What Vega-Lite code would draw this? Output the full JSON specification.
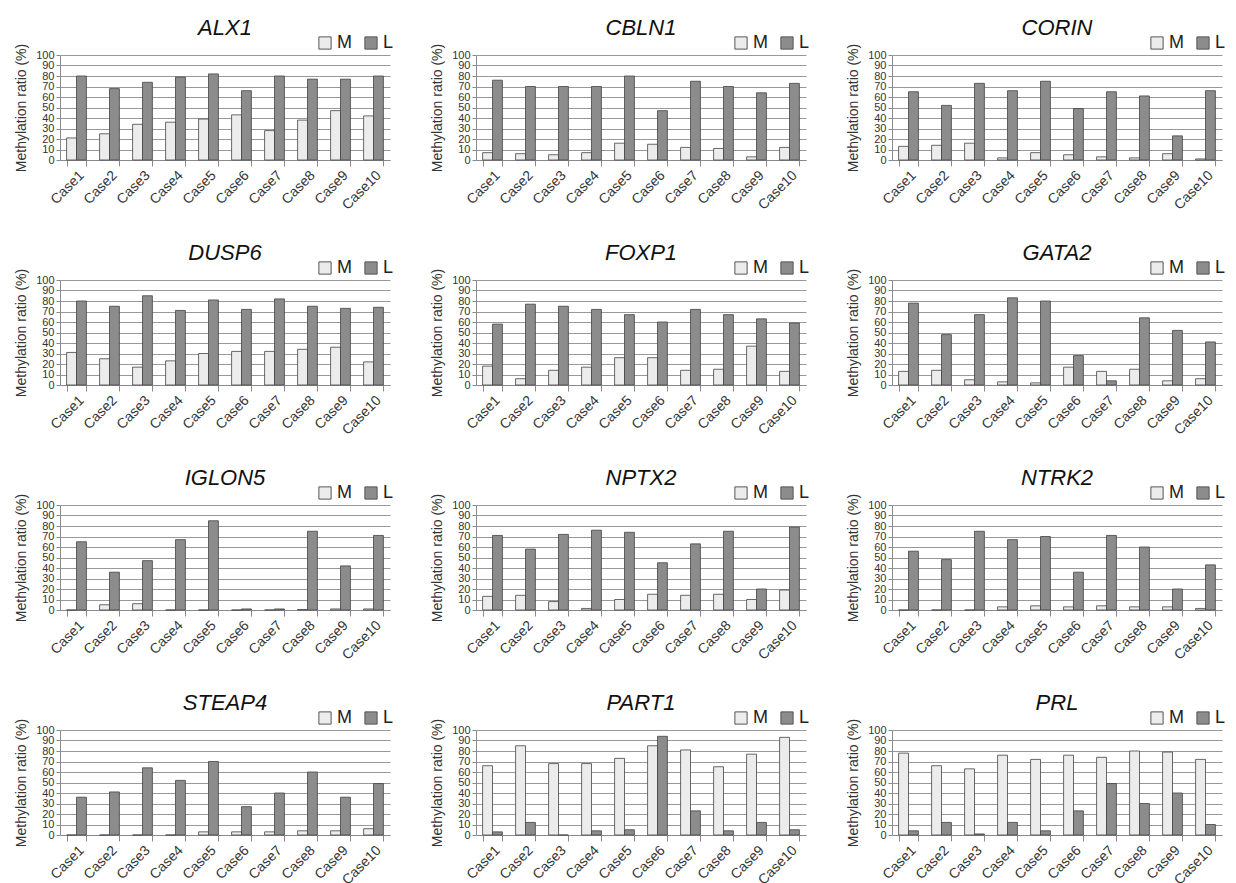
{
"$schema": "https://vega.github.io/schema/vega-lite/v6.json",
"background": "white",
"padding": {"left": 14, "top": 17, "right": 0, "bottom": 0},
"columns": 3,
"spacing": {"row": 29, "column": 36},
"resolve": {"scale": {"color": "independent"}, "legend": {"color": "independent"}},
"data": {"values": [
{"gene":"ALX1","case":"Case1","type":"M","value":21},{"gene":"ALX1","case":"Case2","type":"M","value":25},{"gene":"ALX1","case":"Case3","type":"M","value":34},{"gene":"ALX1","case":"Case4","type":"M","value":36},{"gene":"ALX1","case":"Case5","type":"M","value":39},{"gene":"ALX1","case":"Case6","type":"M","value":43},{"gene":"ALX1","case":"Case7","type":"M","value":28},{"gene":"ALX1","case":"Case8","type":"M","value":38},{"gene":"ALX1","case":"Case9","type":"M","value":47},{"gene":"ALX1","case":"Case10","type":"M","value":42},
{"gene":"ALX1","case":"Case1","type":"L","value":80},{"gene":"ALX1","case":"Case2","type":"L","value":68},{"gene":"ALX1","case":"Case3","type":"L","value":74},{"gene":"ALX1","case":"Case4","type":"L","value":79},{"gene":"ALX1","case":"Case5","type":"L","value":82},{"gene":"ALX1","case":"Case6","type":"L","value":66},{"gene":"ALX1","case":"Case7","type":"L","value":80},{"gene":"ALX1","case":"Case8","type":"L","value":77},{"gene":"ALX1","case":"Case9","type":"L","value":77},{"gene":"ALX1","case":"Case10","type":"L","value":80},
{"gene":"CBLN1","case":"Case1","type":"M","value":7},{"gene":"CBLN1","case":"Case2","type":"M","value":6},{"gene":"CBLN1","case":"Case3","type":"M","value":5},{"gene":"CBLN1","case":"Case4","type":"M","value":7},{"gene":"CBLN1","case":"Case5","type":"M","value":16},{"gene":"CBLN1","case":"Case6","type":"M","value":15},{"gene":"CBLN1","case":"Case7","type":"M","value":12},{"gene":"CBLN1","case":"Case8","type":"M","value":11},{"gene":"CBLN1","case":"Case9","type":"M","value":3},{"gene":"CBLN1","case":"Case10","type":"M","value":12},
{"gene":"CBLN1","case":"Case1","type":"L","value":76},{"gene":"CBLN1","case":"Case2","type":"L","value":70},{"gene":"CBLN1","case":"Case3","type":"L","value":70},{"gene":"CBLN1","case":"Case4","type":"L","value":70},{"gene":"CBLN1","case":"Case5","type":"L","value":80},{"gene":"CBLN1","case":"Case6","type":"L","value":47},{"gene":"CBLN1","case":"Case7","type":"L","value":75},{"gene":"CBLN1","case":"Case8","type":"L","value":70},{"gene":"CBLN1","case":"Case9","type":"L","value":64},{"gene":"CBLN1","case":"Case10","type":"L","value":73},
{"gene":"CORIN","case":"Case1","type":"M","value":13},{"gene":"CORIN","case":"Case2","type":"M","value":14},{"gene":"CORIN","case":"Case3","type":"M","value":16},{"gene":"CORIN","case":"Case4","type":"M","value":2},{"gene":"CORIN","case":"Case5","type":"M","value":7},{"gene":"CORIN","case":"Case6","type":"M","value":5},{"gene":"CORIN","case":"Case7","type":"M","value":3},{"gene":"CORIN","case":"Case8","type":"M","value":2},{"gene":"CORIN","case":"Case9","type":"M","value":6},{"gene":"CORIN","case":"Case10","type":"M","value":1},
{"gene":"CORIN","case":"Case1","type":"L","value":65},{"gene":"CORIN","case":"Case2","type":"L","value":52},{"gene":"CORIN","case":"Case3","type":"L","value":73},{"gene":"CORIN","case":"Case4","type":"L","value":66},{"gene":"CORIN","case":"Case5","type":"L","value":75},{"gene":"CORIN","case":"Case6","type":"L","value":49},{"gene":"CORIN","case":"Case7","type":"L","value":65},{"gene":"CORIN","case":"Case8","type":"L","value":61},{"gene":"CORIN","case":"Case9","type":"L","value":23},{"gene":"CORIN","case":"Case10","type":"L","value":66},
{"gene":"DUSP6","case":"Case1","type":"M","value":31},{"gene":"DUSP6","case":"Case2","type":"M","value":25},{"gene":"DUSP6","case":"Case3","type":"M","value":17},{"gene":"DUSP6","case":"Case4","type":"M","value":23},{"gene":"DUSP6","case":"Case5","type":"M","value":30},{"gene":"DUSP6","case":"Case6","type":"M","value":32},{"gene":"DUSP6","case":"Case7","type":"M","value":32},{"gene":"DUSP6","case":"Case8","type":"M","value":34},{"gene":"DUSP6","case":"Case9","type":"M","value":36},{"gene":"DUSP6","case":"Case10","type":"M","value":22},
{"gene":"DUSP6","case":"Case1","type":"L","value":80},{"gene":"DUSP6","case":"Case2","type":"L","value":75},{"gene":"DUSP6","case":"Case3","type":"L","value":85},{"gene":"DUSP6","case":"Case4","type":"L","value":71},{"gene":"DUSP6","case":"Case5","type":"L","value":81},{"gene":"DUSP6","case":"Case6","type":"L","value":72},{"gene":"DUSP6","case":"Case7","type":"L","value":82},{"gene":"DUSP6","case":"Case8","type":"L","value":75},{"gene":"DUSP6","case":"Case9","type":"L","value":73},{"gene":"DUSP6","case":"Case10","type":"L","value":74},
{"gene":"FOXP1","case":"Case1","type":"M","value":18},{"gene":"FOXP1","case":"Case2","type":"M","value":6},{"gene":"FOXP1","case":"Case3","type":"M","value":14},{"gene":"FOXP1","case":"Case4","type":"M","value":17},{"gene":"FOXP1","case":"Case5","type":"M","value":26},{"gene":"FOXP1","case":"Case6","type":"M","value":26},{"gene":"FOXP1","case":"Case7","type":"M","value":14},{"gene":"FOXP1","case":"Case8","type":"M","value":15},{"gene":"FOXP1","case":"Case9","type":"M","value":37},{"gene":"FOXP1","case":"Case10","type":"M","value":13},
{"gene":"FOXP1","case":"Case1","type":"L","value":58},{"gene":"FOXP1","case":"Case2","type":"L","value":77},{"gene":"FOXP1","case":"Case3","type":"L","value":75},{"gene":"FOXP1","case":"Case4","type":"L","value":72},{"gene":"FOXP1","case":"Case5","type":"L","value":67},{"gene":"FOXP1","case":"Case6","type":"L","value":60},{"gene":"FOXP1","case":"Case7","type":"L","value":72},{"gene":"FOXP1","case":"Case8","type":"L","value":67},{"gene":"FOXP1","case":"Case9","type":"L","value":63},{"gene":"FOXP1","case":"Case10","type":"L","value":59},
{"gene":"GATA2","case":"Case1","type":"M","value":13},{"gene":"GATA2","case":"Case2","type":"M","value":14},{"gene":"GATA2","case":"Case3","type":"M","value":5},{"gene":"GATA2","case":"Case4","type":"M","value":3},{"gene":"GATA2","case":"Case5","type":"M","value":2},{"gene":"GATA2","case":"Case6","type":"M","value":17},{"gene":"GATA2","case":"Case7","type":"M","value":13},{"gene":"GATA2","case":"Case8","type":"M","value":15},{"gene":"GATA2","case":"Case9","type":"M","value":4},{"gene":"GATA2","case":"Case10","type":"M","value":6},
{"gene":"GATA2","case":"Case1","type":"L","value":78},{"gene":"GATA2","case":"Case2","type":"L","value":48},{"gene":"GATA2","case":"Case3","type":"L","value":67},{"gene":"GATA2","case":"Case4","type":"L","value":83},{"gene":"GATA2","case":"Case5","type":"L","value":80},{"gene":"GATA2","case":"Case6","type":"L","value":28},{"gene":"GATA2","case":"Case7","type":"L","value":4},{"gene":"GATA2","case":"Case8","type":"L","value":64},{"gene":"GATA2","case":"Case9","type":"L","value":52},{"gene":"GATA2","case":"Case10","type":"L","value":41},
{"gene":"IGLON5","case":"Case1","type":"M","value":0},{"gene":"IGLON5","case":"Case2","type":"M","value":5},{"gene":"IGLON5","case":"Case3","type":"M","value":6},{"gene":"IGLON5","case":"Case4","type":"M","value":0},{"gene":"IGLON5","case":"Case5","type":"M","value":0},{"gene":"IGLON5","case":"Case6","type":"M","value":0},{"gene":"IGLON5","case":"Case7","type":"M","value":0},{"gene":"IGLON5","case":"Case8","type":"M","value":0.5},{"gene":"IGLON5","case":"Case9","type":"M","value":1},{"gene":"IGLON5","case":"Case10","type":"M","value":1},
{"gene":"IGLON5","case":"Case1","type":"L","value":65},{"gene":"IGLON5","case":"Case2","type":"L","value":36},{"gene":"IGLON5","case":"Case3","type":"L","value":47},{"gene":"IGLON5","case":"Case4","type":"L","value":67},{"gene":"IGLON5","case":"Case5","type":"L","value":85},{"gene":"IGLON5","case":"Case6","type":"L","value":1},{"gene":"IGLON5","case":"Case7","type":"L","value":1},{"gene":"IGLON5","case":"Case8","type":"L","value":75},{"gene":"IGLON5","case":"Case9","type":"L","value":42},{"gene":"IGLON5","case":"Case10","type":"L","value":71},
{"gene":"NPTX2","case":"Case1","type":"M","value":13},{"gene":"NPTX2","case":"Case2","type":"M","value":14},{"gene":"NPTX2","case":"Case3","type":"M","value":8},{"gene":"NPTX2","case":"Case4","type":"M","value":1.5},{"gene":"NPTX2","case":"Case5","type":"M","value":10},{"gene":"NPTX2","case":"Case6","type":"M","value":15},{"gene":"NPTX2","case":"Case7","type":"M","value":14},{"gene":"NPTX2","case":"Case8","type":"M","value":15},{"gene":"NPTX2","case":"Case9","type":"M","value":10},{"gene":"NPTX2","case":"Case10","type":"M","value":19},
{"gene":"NPTX2","case":"Case1","type":"L","value":71},{"gene":"NPTX2","case":"Case2","type":"L","value":58},{"gene":"NPTX2","case":"Case3","type":"L","value":72},{"gene":"NPTX2","case":"Case4","type":"L","value":76},{"gene":"NPTX2","case":"Case5","type":"L","value":74},{"gene":"NPTX2","case":"Case6","type":"L","value":45},{"gene":"NPTX2","case":"Case7","type":"L","value":63},{"gene":"NPTX2","case":"Case8","type":"L","value":75},{"gene":"NPTX2","case":"Case9","type":"L","value":20},{"gene":"NPTX2","case":"Case10","type":"L","value":79},
{"gene":"NTRK2","case":"Case1","type":"M","value":0},{"gene":"NTRK2","case":"Case2","type":"M","value":0},{"gene":"NTRK2","case":"Case3","type":"M","value":0},{"gene":"NTRK2","case":"Case4","type":"M","value":3},{"gene":"NTRK2","case":"Case5","type":"M","value":4},{"gene":"NTRK2","case":"Case6","type":"M","value":3},{"gene":"NTRK2","case":"Case7","type":"M","value":4},{"gene":"NTRK2","case":"Case8","type":"M","value":3},{"gene":"NTRK2","case":"Case9","type":"M","value":3},{"gene":"NTRK2","case":"Case10","type":"M","value":1.5},
{"gene":"NTRK2","case":"Case1","type":"L","value":56},{"gene":"NTRK2","case":"Case2","type":"L","value":48},{"gene":"NTRK2","case":"Case3","type":"L","value":75},{"gene":"NTRK2","case":"Case4","type":"L","value":67},{"gene":"NTRK2","case":"Case5","type":"L","value":70},{"gene":"NTRK2","case":"Case6","type":"L","value":36},{"gene":"NTRK2","case":"Case7","type":"L","value":71},{"gene":"NTRK2","case":"Case8","type":"L","value":60},{"gene":"NTRK2","case":"Case9","type":"L","value":20},{"gene":"NTRK2","case":"Case10","type":"L","value":43},
{"gene":"STEAP4","case":"Case1","type":"M","value":0},{"gene":"STEAP4","case":"Case2","type":"M","value":0},{"gene":"STEAP4","case":"Case3","type":"M","value":0},{"gene":"STEAP4","case":"Case4","type":"M","value":0},{"gene":"STEAP4","case":"Case5","type":"M","value":3},{"gene":"STEAP4","case":"Case6","type":"M","value":3},{"gene":"STEAP4","case":"Case7","type":"M","value":3},{"gene":"STEAP4","case":"Case8","type":"M","value":4},{"gene":"STEAP4","case":"Case9","type":"M","value":4},{"gene":"STEAP4","case":"Case10","type":"M","value":6},
{"gene":"STEAP4","case":"Case1","type":"L","value":36},{"gene":"STEAP4","case":"Case2","type":"L","value":41},{"gene":"STEAP4","case":"Case3","type":"L","value":64},{"gene":"STEAP4","case":"Case4","type":"L","value":52},{"gene":"STEAP4","case":"Case5","type":"L","value":70},{"gene":"STEAP4","case":"Case6","type":"L","value":27},{"gene":"STEAP4","case":"Case7","type":"L","value":40},{"gene":"STEAP4","case":"Case8","type":"L","value":60},{"gene":"STEAP4","case":"Case9","type":"L","value":36},{"gene":"STEAP4","case":"Case10","type":"L","value":49},
{"gene":"PART1","case":"Case1","type":"M","value":66},{"gene":"PART1","case":"Case2","type":"M","value":85},{"gene":"PART1","case":"Case3","type":"M","value":68},{"gene":"PART1","case":"Case4","type":"M","value":68},{"gene":"PART1","case":"Case5","type":"M","value":73},{"gene":"PART1","case":"Case6","type":"M","value":85},{"gene":"PART1","case":"Case7","type":"M","value":81},{"gene":"PART1","case":"Case8","type":"M","value":65},{"gene":"PART1","case":"Case9","type":"M","value":77},{"gene":"PART1","case":"Case10","type":"M","value":93},
{"gene":"PART1","case":"Case1","type":"L","value":3},{"gene":"PART1","case":"Case2","type":"L","value":12},{"gene":"PART1","case":"Case3","type":"L","value":0},{"gene":"PART1","case":"Case4","type":"L","value":4},{"gene":"PART1","case":"Case5","type":"L","value":5},{"gene":"PART1","case":"Case6","type":"L","value":94},{"gene":"PART1","case":"Case7","type":"L","value":23},{"gene":"PART1","case":"Case8","type":"L","value":4},{"gene":"PART1","case":"Case9","type":"L","value":12},{"gene":"PART1","case":"Case10","type":"L","value":5},
{"gene":"PRL","case":"Case1","type":"M","value":78},{"gene":"PRL","case":"Case2","type":"M","value":66},{"gene":"PRL","case":"Case3","type":"M","value":63},{"gene":"PRL","case":"Case4","type":"M","value":76},{"gene":"PRL","case":"Case5","type":"M","value":72},{"gene":"PRL","case":"Case6","type":"M","value":76},{"gene":"PRL","case":"Case7","type":"M","value":74},{"gene":"PRL","case":"Case8","type":"M","value":80},{"gene":"PRL","case":"Case9","type":"M","value":79},{"gene":"PRL","case":"Case10","type":"M","value":72},
{"gene":"PRL","case":"Case1","type":"L","value":4},{"gene":"PRL","case":"Case2","type":"L","value":12},{"gene":"PRL","case":"Case3","type":"L","value":1},{"gene":"PRL","case":"Case4","type":"L","value":12},{"gene":"PRL","case":"Case5","type":"L","value":4},{"gene":"PRL","case":"Case6","type":"L","value":23},{"gene":"PRL","case":"Case7","type":"L","value":49},{"gene":"PRL","case":"Case8","type":"L","value":30},{"gene":"PRL","case":"Case9","type":"L","value":40},{"gene":"PRL","case":"Case10","type":"L","value":10}
]},
"concat": [
{"title":"ALX1","transform":[{"filter":"datum.gene === 'ALX1'"}],"width":330,"height":105,"mark":{"type":"bar","stroke":"#444","strokeWidth":0.8},"encoding":{"x":{"field":"case","type":"nominal","sort":["Case1","Case2","Case3","Case4","Case5","Case6","Case7","Case8","Case9","Case10"],"scale":{"paddingInner":0.4,"paddingOuter":0.2},"axis":{"title":null}},"xOffset":{"field":"type","type":"nominal","sort":["M","L"]},"y":{"field":"value","type":"quantitative","scale":{"domain":[0,100]},"axis":{"title":"Methylation ratio (%)","values":[0,10,20,30,40,50,60,70,80,90,100]}},"color":{"field":"type","type":"nominal","sort":["M","L"],"scale":{"domain":["M","L"],"range":["#ececec","#8c8c8c"]},"legend":{"title":null}}}},
{"title":"CBLN1","transform":[{"filter":"datum.gene === 'CBLN1'"}],"width":330,"height":105,"mark":{"type":"bar","stroke":"#444","strokeWidth":0.8},"encoding":{"x":{"field":"case","type":"nominal","sort":["Case1","Case2","Case3","Case4","Case5","Case6","Case7","Case8","Case9","Case10"],"scale":{"paddingInner":0.4,"paddingOuter":0.2},"axis":{"title":null}},"xOffset":{"field":"type","type":"nominal","sort":["M","L"]},"y":{"field":"value","type":"quantitative","scale":{"domain":[0,100]},"axis":{"title":"Methylation ratio (%)","values":[0,10,20,30,40,50,60,70,80,90,100]}},"color":{"field":"type","type":"nominal","sort":["M","L"],"scale":{"domain":["M","L"],"range":["#ececec","#8c8c8c"]},"legend":{"title":null}}}},
{"title":"CORIN","transform":[{"filter":"datum.gene === 'CORIN'"}],"width":330,"height":105,"mark":{"type":"bar","stroke":"#444","strokeWidth":0.8},"encoding":{"x":{"field":"case","type":"nominal","sort":["Case1","Case2","Case3","Case4","Case5","Case6","Case7","Case8","Case9","Case10"],"scale":{"paddingInner":0.4,"paddingOuter":0.2},"axis":{"title":null}},"xOffset":{"field":"type","type":"nominal","sort":["M","L"]},"y":{"field":"value","type":"quantitative","scale":{"domain":[0,100]},"axis":{"title":"Methylation ratio (%)","values":[0,10,20,30,40,50,60,70,80,90,100]}},"color":{"field":"type","type":"nominal","sort":["M","L"],"scale":{"domain":["M","L"],"range":["#ececec","#8c8c8c"]},"legend":{"title":null}}}},
{"title":"DUSP6","transform":[{"filter":"datum.gene === 'DUSP6'"}],"width":330,"height":105,"mark":{"type":"bar","stroke":"#444","strokeWidth":0.8},"encoding":{"x":{"field":"case","type":"nominal","sort":["Case1","Case2","Case3","Case4","Case5","Case6","Case7","Case8","Case9","Case10"],"scale":{"paddingInner":0.4,"paddingOuter":0.2},"axis":{"title":null}},"xOffset":{"field":"type","type":"nominal","sort":["M","L"]},"y":{"field":"value","type":"quantitative","scale":{"domain":[0,100]},"axis":{"title":"Methylation ratio (%)","values":[0,10,20,30,40,50,60,70,80,90,100]}},"color":{"field":"type","type":"nominal","sort":["M","L"],"scale":{"domain":["M","L"],"range":["#ececec","#8c8c8c"]},"legend":{"title":null}}}},
{"title":"FOXP1","transform":[{"filter":"datum.gene === 'FOXP1'"}],"width":330,"height":105,"mark":{"type":"bar","stroke":"#444","strokeWidth":0.8},"encoding":{"x":{"field":"case","type":"nominal","sort":["Case1","Case2","Case3","Case4","Case5","Case6","Case7","Case8","Case9","Case10"],"scale":{"paddingInner":0.4,"paddingOuter":0.2},"axis":{"title":null}},"xOffset":{"field":"type","type":"nominal","sort":["M","L"]},"y":{"field":"value","type":"quantitative","scale":{"domain":[0,100]},"axis":{"title":"Methylation ratio (%)","values":[0,10,20,30,40,50,60,70,80,90,100]}},"color":{"field":"type","type":"nominal","sort":["M","L"],"scale":{"domain":["M","L"],"range":["#ececec","#8c8c8c"]},"legend":{"title":null}}}},
{"title":"GATA2","transform":[{"filter":"datum.gene === 'GATA2'"}],"width":330,"height":105,"mark":{"type":"bar","stroke":"#444","strokeWidth":0.8},"encoding":{"x":{"field":"case","type":"nominal","sort":["Case1","Case2","Case3","Case4","Case5","Case6","Case7","Case8","Case9","Case10"],"scale":{"paddingInner":0.4,"paddingOuter":0.2},"axis":{"title":null}},"xOffset":{"field":"type","type":"nominal","sort":["M","L"]},"y":{"field":"value","type":"quantitative","scale":{"domain":[0,100]},"axis":{"title":"Methylation ratio (%)","values":[0,10,20,30,40,50,60,70,80,90,100]}},"color":{"field":"type","type":"nominal","sort":["M","L"],"scale":{"domain":["M","L"],"range":["#ececec","#8c8c8c"]},"legend":{"title":null}}}},
{"title":"IGLON5","transform":[{"filter":"datum.gene === 'IGLON5'"}],"width":330,"height":105,"mark":{"type":"bar","stroke":"#444","strokeWidth":0.8},"encoding":{"x":{"field":"case","type":"nominal","sort":["Case1","Case2","Case3","Case4","Case5","Case6","Case7","Case8","Case9","Case10"],"scale":{"paddingInner":0.4,"paddingOuter":0.2},"axis":{"title":null}},"xOffset":{"field":"type","type":"nominal","sort":["M","L"]},"y":{"field":"value","type":"quantitative","scale":{"domain":[0,100]},"axis":{"title":"Methylation ratio (%)","values":[0,10,20,30,40,50,60,70,80,90,100]}},"color":{"field":"type","type":"nominal","sort":["M","L"],"scale":{"domain":["M","L"],"range":["#ececec","#8c8c8c"]},"legend":{"title":null}}}},
{"title":"NPTX2","transform":[{"filter":"datum.gene === 'NPTX2'"}],"width":330,"height":105,"mark":{"type":"bar","stroke":"#444","strokeWidth":0.8},"encoding":{"x":{"field":"case","type":"nominal","sort":["Case1","Case2","Case3","Case4","Case5","Case6","Case7","Case8","Case9","Case10"],"scale":{"paddingInner":0.4,"paddingOuter":0.2},"axis":{"title":null}},"xOffset":{"field":"type","type":"nominal","sort":["M","L"]},"y":{"field":"value","type":"quantitative","scale":{"domain":[0,100]},"axis":{"title":"Methylation ratio (%)","values":[0,10,20,30,40,50,60,70,80,90,100]}},"color":{"field":"type","type":"nominal","sort":["M","L"],"scale":{"domain":["M","L"],"range":["#ececec","#8c8c8c"]},"legend":{"title":null}}}},
{"title":"NTRK2","transform":[{"filter":"datum.gene === 'NTRK2'"}],"width":330,"height":105,"mark":{"type":"bar","stroke":"#444","strokeWidth":0.8},"encoding":{"x":{"field":"case","type":"nominal","sort":["Case1","Case2","Case3","Case4","Case5","Case6","Case7","Case8","Case9","Case10"],"scale":{"paddingInner":0.4,"paddingOuter":0.2},"axis":{"title":null}},"xOffset":{"field":"type","type":"nominal","sort":["M","L"]},"y":{"field":"value","type":"quantitative","scale":{"domain":[0,100]},"axis":{"title":"Methylation ratio (%)","values":[0,10,20,30,40,50,60,70,80,90,100]}},"color":{"field":"type","type":"nominal","sort":["M","L"],"scale":{"domain":["M","L"],"range":["#ececec","#8c8c8c"]},"legend":{"title":null}}}},
{"title":"STEAP4","transform":[{"filter":"datum.gene === 'STEAP4'"}],"width":330,"height":105,"mark":{"type":"bar","stroke":"#444","strokeWidth":0.8},"encoding":{"x":{"field":"case","type":"nominal","sort":["Case1","Case2","Case3","Case4","Case5","Case6","Case7","Case8","Case9","Case10"],"scale":{"paddingInner":0.4,"paddingOuter":0.2},"axis":{"title":null}},"xOffset":{"field":"type","type":"nominal","sort":["M","L"]},"y":{"field":"value","type":"quantitative","scale":{"domain":[0,100]},"axis":{"title":"Methylation ratio (%)","values":[0,10,20,30,40,50,60,70,80,90,100]}},"color":{"field":"type","type":"nominal","sort":["M","L"],"scale":{"domain":["M","L"],"range":["#ececec","#8c8c8c"]},"legend":{"title":null}}}},
{"title":"PART1","transform":[{"filter":"datum.gene === 'PART1'"}],"width":330,"height":105,"mark":{"type":"bar","stroke":"#444","strokeWidth":0.8},"encoding":{"x":{"field":"case","type":"nominal","sort":["Case1","Case2","Case3","Case4","Case5","Case6","Case7","Case8","Case9","Case10"],"scale":{"paddingInner":0.4,"paddingOuter":0.2},"axis":{"title":null}},"xOffset":{"field":"type","type":"nominal","sort":["M","L"]},"y":{"field":"value","type":"quantitative","scale":{"domain":[0,100]},"axis":{"title":"Methylation ratio (%)","values":[0,10,20,30,40,50,60,70,80,90,100]}},"color":{"field":"type","type":"nominal","sort":["M","L"],"scale":{"domain":["M","L"],"range":["#ececec","#8c8c8c"]},"legend":{"title":null}}}},
{"title":"PRL","transform":[{"filter":"datum.gene === 'PRL'"}],"width":330,"height":105,"mark":{"type":"bar","stroke":"#444","strokeWidth":0.8},"encoding":{"x":{"field":"case","type":"nominal","sort":["Case1","Case2","Case3","Case4","Case5","Case6","Case7","Case8","Case9","Case10"],"scale":{"paddingInner":0.4,"paddingOuter":0.2},"axis":{"title":null}},"xOffset":{"field":"type","type":"nominal","sort":["M","L"]},"y":{"field":"value","type":"quantitative","scale":{"domain":[0,100]},"axis":{"title":"Methylation ratio (%)","values":[0,10,20,30,40,50,60,70,80,90,100]}},"color":{"field":"type","type":"nominal","sort":["M","L"],"scale":{"domain":["M","L"],"range":["#ececec","#8c8c8c"]},"legend":{"title":null}}}}
],
"config": {
"font": "Liberation Sans",
"view": {"stroke": null},
"title": {"fontSize": 22, "fontStyle": "italic", "fontWeight": "normal", "font": "Liberation Sans", "offset": -6, "anchor": "middle", "color": "#111"},
"axis": {"labelFont": "Liberation Sans", "titleFont": "Liberation Sans", "labelColor": "#333", "titleColor": "#333", "domainColor": "#8a8a8a", "tickColor": "#8a8a8a", "gridColor": "#999", "titleFontWeight": "normal"},
"axisY": {"labelFontSize": 11, "titleFontSize": 14, "tickSize": 4, "labelPadding": 2, "titlePadding": 7, "grid": true, "gridWidth": 1, "labelOverlap": false},
"axisX": {"labelFontSize": 14, "labelAngle": -45, "tickSize": 6, "labelPadding": 2, "tickBand": "extent", "grid": false},
"legend": {"orient": "none", "legendX": 256, "legendY": -21, "direction": "horizontal", "labelFontSize": 18, "labelColor": "#222", "symbolType": "square", "symbolSize": 150, "symbolStrokeColor": "#555", "symbolStrokeWidth": 1, "columnPadding": 10, "labelOffset": 3}
}
}
